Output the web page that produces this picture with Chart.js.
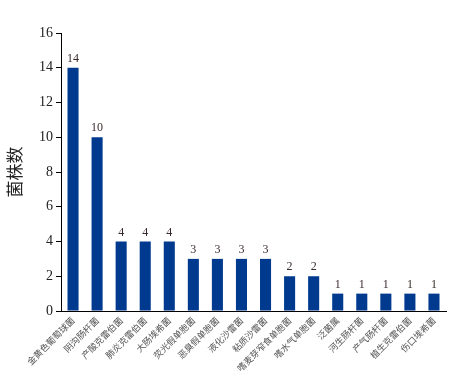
<!DOCTYPE html>
<html>
  <head>
    <script src="https://cdn.jsdelivr.net/npm/chart.js"></script>
    <style>
      body { margin: 0; background: #fff; }
      #wrap { width: 456px; height: 381px; }
    </style>
  </head>
  <body>
    <div id="wrap"><canvas id="chart"></canvas></div>
    <script>
      const categories = [
        "金黄色葡萄球菌", "阴沟肠杆菌", "产酸克雷伯菌", "肺炎克雷伯菌",
        "大肠埃希菌", "荧光假单胞菌", "恶臭假单胞菌", "液化沙雷菌",
        "粘质沙雷菌", "嗜麦芽窄食单胞菌", "嗜水气单胞菌", "泛菌属",
        "河生肠杆菌", "产气肠杆菌", "植生克雷伯菌", "伤口埃希菌"
      ];
      const counts = [14, 10, 4, 4, 4, 3, 3, 3, 3, 2, 2, 1, 1, 1, 1, 1];
      const yTicks = [0, 2, 4, 6, 8, 10, 12, 14, 16];

      // numbers above the bars
      const valueLabels = {
        id: "valueLabels",
        afterDatasetsDraw(chart) {
          const ctx = chart.ctx;
          const meta = chart.getDatasetMeta(0);
          ctx.save();
          ctx.font = "12px 'Liberation Serif'";
          ctx.fillStyle = "#3a2b2b";
          ctx.textAlign = "center";
          ctx.textBaseline = "bottom";
          meta.data.forEach((bar, i) => {
            ctx.fillText(counts[i], bar.x, bar.y - 3);
          });
          ctx.restore();
        }
      };

      new Chart(document.getElementById("chart"), {
        type: "bar",
        data: {
          labels: categories,
          datasets: [{
            data: counts,
            backgroundColor: "#003a8f",
            barPercentage: 0.46,
            categoryPercentage: 1
          }]
        },
        options: {
          responsive: true,
          maintainAspectRatio: false,
          animation: false,
          layout: { padding: { top: 33, right: 10, left: 4, bottom: 0 } },
          plugins: {
            legend: { display: false },
            tooltip: { enabled: false }
          },
          scales: {
            x: {
              offset: true,
              grid: { display: false, drawTicks: false },
              border: { display: true, color: "#000", width: 1 },
              ticks: {
                minRotation: 45,
                maxRotation: 45,
                padding: 4,
                color: "#555",
                font: { family: "'Noto Sans CJK SC'", size: 9 }
              },
              afterFit(scale) { scale.height = 70; }
            },
            y: {
              min: 0,
              max: 16,
              afterBuildTicks(scale) {
                scale.ticks = yTicks.map(v => ({ value: v }));
              },
              grid: {
                display: true,
                drawOnChartArea: false,
                drawTicks: true,
                tickLength: 5,
                color: "#000"
              },
              border: { display: true, color: "#000", width: 1 },
              ticks: {
                color: "#222",
                padding: 3,
                font: { family: "'Liberation Serif'", size: 14 }
              },
              title: {
                display: true,
                text: "菌株数",
                color: "#222",
                padding: { top: 0, bottom: 2 },
                font: { family: "'Noto Sans CJK SC'", size: 17 }
              },
              afterFit(scale) { scale.width = 57; }
            }
          }
        },
        plugins: [valueLabels]
      });
    </script>
  </body>
</html>
